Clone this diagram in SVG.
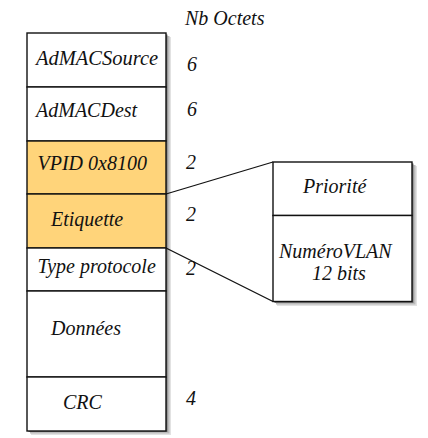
<svg xmlns="http://www.w3.org/2000/svg" width="428" height="438" viewBox="0 0 428 438" font-family="Liberation Serif, serif" font-size="20">
<defs>
<rect id="shadowMain" x="0" y="0" width="1" height="1"/>
</defs>
<rect width="428" height="438" fill="#fff"/>
<text x="185" y="25" font-family="Liberation Serif, serif" font-style="italic" fill="#111">Nb Octets</text>
<g id="frame">
<rect fill="#e2e2e2" x="31" y="37" width="140" height="398"/>
<rect fill="#bbb" x="30" y="36" width="139.5" height="397.5"/>
<rect fill="#777" x="28.5" y="34.5" width="139" height="397.5"/>
</g>
<g stroke="#111" stroke-width="1.4">
<g id="adMACSource">
<rect fill="#fff" x="27" y="33" width="139" height="54"/>
</g>
<g id="adMACDest">
<rect fill="#fff" x="27" y="87" width="139" height="54"/>
</g>
<g id="vpid">
<rect fill="#FFD47A" x="27" y="141" width="139" height="53"/>
</g>
<g id="etiquette">
<rect fill="#FFD47A" x="27" y="194" width="139" height="54"/>
</g>
<g id="typeProtocole">
<rect fill="#fff" x="27" y="248" width="139" height="43"/>
</g>
<g id="donnees">
<rect fill="#fff" x="27" y="291" width="139" height="86"/>
</g>
<g id="crc">
<rect fill="#fff" x="27" y="377" width="139" height="54"/>
</g>
</g>
<g id="labels" fill="#111">
<text x="36" y="65" font-family="Liberation Serif, serif" font-style="italic" font-size="20.5">AdMACSource</text>
<text x="187" y="71" font-family="Liberation Serif, serif" font-style="italic">6</text>
<text x="36" y="117" font-family="Liberation Serif, serif" font-style="italic">AdMACDest</text>
<text x="187" y="116" font-family="Liberation Serif, serif" font-style="italic">6</text>
<text x="37.5" y="170" font-family="Liberation Serif, serif" font-style="italic">VPID 0x8100</text>
<text x="186" y="169" font-family="Liberation Serif, serif" font-style="italic">2</text>
<text x="51" y="226" font-family="Liberation Serif, serif" font-style="italic">Etiquette</text>
<text x="186" y="221" font-family="Liberation Serif, serif" font-style="italic">2</text>
<text x="37.5" y="273" font-family="Liberation Serif, serif" font-style="italic">Type protocole</text>
<text x="186" y="275" font-family="Liberation Serif, serif" font-style="italic">2</text>
<text x="51" y="335" font-family="Liberation Serif, serif" font-style="italic">Données</text>
<text x="63" y="409" font-family="Liberation Serif, serif" font-style="italic">CRC</text>
<text x="186" y="405" font-family="Liberation Serif, serif" font-style="italic">4</text>
</g>
<g id="tagDetail">
<rect fill="#e2e2e2" x="277" y="166" width="140" height="140"/>
<rect fill="#bbb" x="276" y="165" width="139.5" height="139.5"/>
<rect fill="#777" x="274.5" y="163.5" width="139" height="139.5"/>
<rect fill="#fff" stroke="#111" stroke-width="1.4" x="273" y="162" width="139" height="53.5"/>
<rect fill="#fff" stroke="#111" stroke-width="1.4" x="273" y="215.5" width="139" height="86"/>
<text x="303" y="193" font-family="Liberation Serif, serif" font-style="italic" fill="#111">Priorité</text>
<text x="279" y="258" font-family="Liberation Serif, serif" font-style="italic" fill="#111">NuméroVLAN</text>
<text x="312" y="280" font-family="Liberation Serif, serif" font-style="italic" fill="#111">12 bits</text>
</g>
<g id="connectors" stroke="#111" stroke-width="1.3" fill="none">
<line x1="166" y1="194" x2="273" y2="162"/>
<line x1="166" y1="248" x2="273" y2="301.5"/>
</g>
</svg>
